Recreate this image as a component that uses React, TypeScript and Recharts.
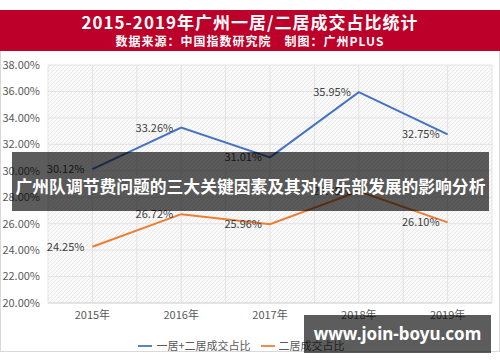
import React from "react";
import {
  LineChart,
  Line,
  XAxis,
  YAxis,
  CartesianGrid,
  Legend,
  LabelList,
} from "recharts";

const years = ["2015年", "2016年", "2017年", "2018年", "2019年"];
const totalShare = [30.12, 33.26, 31.01, 35.95, 32.75]; // 一居+二居
const twoRoomShare = [24.25, 26.72, 25.96, 28.45, 26.1]; // 二居
const yTicks = [20, 22, 24, 26, 28, 30, 32, 34, 36, 38];

const data = years.map((y, i) => ({
  year: y,
  total: totalShare[i],
  two: twoRoomShare[i],
}));

const FONT = '"Noto Sans CJK SC", "Noto Sans", sans-serif';
const pct = (v: number) => `${v.toFixed(2)}%`;

export default function App() {
  return (
    <div
      style={{
        position: "absolute",
        left: 0,
        top: 0,
        width: 500,
        height: 362,
        background: "#fff",
        fontFamily: FONT,
        overflow: "hidden",
      }}
    >
      {/* red title banner */}
      <div
        style={{
          position: "absolute",
          left: 0,
          top: 10,
          width: 500,
          height: 41,
          background: "#bd0029",
          color: "#fff",
          textAlign: "center",
        }}
      >
        <div style={{ fontSize: 17, fontWeight: 700, letterSpacing: 1, lineHeight: "22px", marginTop: 1 }}>
          2015-2019年广州一居/二居成交占比统计
        </div>
        <div style={{ fontSize: 12, fontWeight: 700, letterSpacing: 1, lineHeight: "16px" }}>
          数据来源：中国指数研究院　制图：广州PLUS
        </div>
      </div>

      {/* chart card */}
      <div
        style={{
          position: "absolute",
          left: 0,
          top: 51,
          width: 498,
          height: 300,
          border: "1px solid #d9d9d9",
          borderTop: "none",
        }}
      >
        <LineChart
          width={500}
          height={301}
          data={data}
          margin={{ top: 14, right: 9, left: 0, bottom: 3 }}
        >
          <defs>
            <pattern id="hatch" width="4" height="4" patternUnits="userSpaceOnUse">
              <rect width="4" height="4" fill="#fafafa" />
              <path d="M0,4 L4,0" stroke="#e9e9e9" strokeWidth="1" />
            </pattern>
          </defs>
          <CartesianGrid
            stroke="#e3e3e3"
            fill="url(#hatch)"
            fillOpacity={1}
            verticalCoordinatesGenerator={({ offset }: any) =>
              Array.from({ length: years.length * 2 + 1 }, (_, i) => offset.left + (i * offset.width) / (years.length * 2))
            }
          />
          <XAxis
            dataKey="year"
            scale="band"
            axisLine={{ stroke: "#d9d9d9" }}
            tickLine={false}
            height={28}
            tick={{ fill: "#595959", fontSize: 11, fontFamily: FONT }}
          />
          <YAxis
            width={47}
            domain={[20, 38]}
            ticks={yTicks}
            interval={0}
            axisLine={false}
            tickLine={false}
            tickFormatter={pct}
            tick={{ fill: "#595959", fontSize: 11, fontFamily: FONT }}
          />
          <Legend
            verticalAlign="bottom"
            height={18}
            iconType="plainline"
            formatter={(v) => (
              <span style={{ color: "#595959", fontSize: 11, fontFamily: FONT }}>{v}</span>
            )}
          />
          <Line
            name="一居+二居成交占比"
            dataKey="total"
            stroke="#4472c4"
            strokeWidth={2}
            dot={false}
            isAnimationActive={false}
          >
            <LabelList
              dataKey="total"
              position="left"
              offset={8}
              formatter={(v: any) => pct(Number(v))}
              style={{ fill: "#404040", fontSize: 11, fontFamily: FONT }}
            />
          </Line>
          <Line
            name="二居成交占比"
            dataKey="two"
            stroke="#ed7d31"
            strokeWidth={2}
            dot={false}
            isAnimationActive={false}
          >
            <LabelList
              dataKey="two"
              position="left"
              offset={8}
              formatter={(v: any) => pct(Number(v))}
              style={{ fill: "#404040", fontSize: 11, fontFamily: FONT }}
            />
          </Line>
        </LineChart>
      </div>

      {/* dark overlay caption */}
      <div
        style={{
          position: "absolute",
          left: 12,
          top: 152,
          width: 477,
          height: 59,
          background: "rgba(0,0,0,0.64)",
          color: "#fff",
          fontSize: 16.8,
          fontWeight: 700,
          lineHeight: "20px",
          paddingTop: 24,
          boxSizing: "border-box",
          whiteSpace: "nowrap",
          textAlign: "center",
        }}
      >
        广州队调节费问题的三大关键因素及其对俱乐部发展的影响分析
      </div>

      {/* watermark */}
      <div
        style={{
          position: "absolute",
          left: 304,
          top: 315,
          width: 187,
          height: 38,
          background: "rgba(0,0,0,0.64)",
          color: "#fff",
          fontSize: 17,
          fontWeight: 700,
          lineHeight: "38px",
          textAlign: "center",
          whiteSpace: "nowrap",
          fontFamily: '"Noto Sans", sans-serif',
        }}
      >
        www.join-boyu.com
      </div>
    </div>
  );
}
